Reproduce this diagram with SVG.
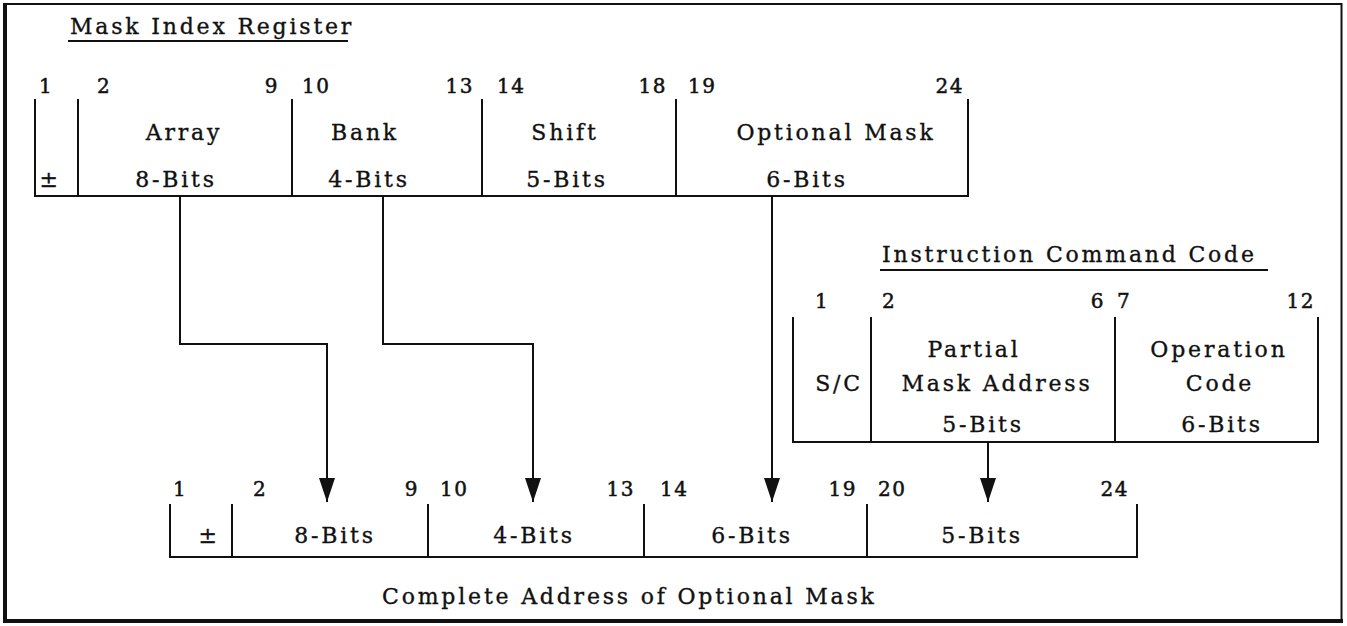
<svg xmlns="http://www.w3.org/2000/svg" width="1347" height="626" viewBox="0 0 1347 626">
<style>
.t{font-family:"DejaVu Serif","Liberation Serif",serif;font-size:22px;letter-spacing:2.8px;fill:#111;stroke:#111;stroke-width:0.35}
.n{font-family:"DejaVu Serif","Liberation Serif",serif;font-size:20px;letter-spacing:1.5px;fill:#111;stroke:#111;stroke-width:0.5}
.m{text-anchor:middle}
.e{text-anchor:end}
.ln{stroke:#111;stroke-width:2;fill:none}
</style>
<defs>
<marker id="arr" markerWidth="24" markerHeight="16" refX="24" refY="8" orient="auto" markerUnits="userSpaceOnUse" viewBox="0 0 24 16">
<path d="M0,0 L24,8 L0,16 Z" fill="#111"/>
</marker>
</defs>
<rect width="1347" height="626" fill="#fff"/>
<g id="frame">
<rect x="4.5" y="4" width="1337" height="616" fill="none" stroke="#111" stroke-width="2"/>
<line x1="5" y1="3" x2="5" y2="622" stroke="#111" stroke-width="4"/>
<line x1="3" y1="621" x2="1343" y2="621" stroke="#111" stroke-width="4"/>
</g>
<g id="mask-index-register">
<text class="t" x="70" y="34">Mask Index Register</text>
<line class="ln" x1="68" y1="41" x2="348" y2="41"/>
<text class="n" x="39" y="93">1</text>
<text class="n" x="97" y="93">2</text>
<text class="n e" x="279" y="93">9</text>
<text class="n" x="302" y="93">10</text>
<text class="n e" x="474" y="93">13</text>
<text class="n" x="497" y="93">14</text>
<text class="n e" x="667" y="93">18</text>
<text class="n" x="688" y="93">19</text>
<text class="n e" x="964" y="93">24</text>
<path class="ln" d="M35,99 V196 H968 V99 M78,99 V196 M292,99 V196 M482,99 V196 M676,99 V196"/>
<text class="t m" x="184" y="140">Array</text>
<text class="t m" x="365" y="140">Bank</text>
<text class="t m" x="565" y="140">Shift</text>
<text class="t m" x="836" y="140">Optional Mask</text>
<text class="t m" x="50" y="187">±</text>
<text class="t m" x="176" y="187">8-Bits</text>
<text class="t m" x="369" y="187">4-Bits</text>
<text class="t m" x="567" y="187">5-Bits</text>
<text class="t m" x="807" y="187">6-Bits</text>
</g>
<g id="instruction-command-code">
<text class="t" x="882" y="262">Instruction Command Code</text>
<line class="ln" x1="880" y1="270" x2="1268" y2="270"/>
<text class="n" x="815" y="308">1</text>
<text class="n" x="882" y="308">2</text>
<text class="n e" x="1105" y="308">6</text>
<text class="n" x="1117" y="308">7</text>
<text class="n e" x="1315" y="308">12</text>
<path class="ln" d="M793,317 V442 H1318 V317 M871,317 V442 M1115,317 V442"/>
<text class="t m" x="839" y="391">S/C</text>
<text class="t m" x="974" y="357">Partial</text>
<text class="t m" x="997" y="391">Mask Address</text>
<text class="t m" x="983" y="432">5-Bits</text>
<text class="t m" x="1219" y="357">Operation</text>
<text class="t m" x="1220" y="391">Code</text>
<text class="t m" x="1222" y="432">6-Bits</text>
</g>
<g id="complete-address">
<text class="n" x="173" y="496">1</text>
<text class="n" x="253" y="496">2</text>
<text class="n e" x="419" y="496">9</text>
<text class="n" x="440" y="496">10</text>
<text class="n e" x="635" y="496">13</text>
<text class="n" x="660" y="496">14</text>
<text class="n e" x="857" y="496">19</text>
<text class="n" x="878" y="496">20</text>
<text class="n e" x="1129" y="496">24</text>
<path class="ln" d="M170,504 V557 H1137 V504 M232,504 V557 M428,504 V557 M644,504 V557 M867,504 V557"/>
<text class="t m" x="209" y="543">±</text>
<text class="t m" x="335" y="543">8-Bits</text>
<text class="t m" x="534" y="543">4-Bits</text>
<text class="t m" x="752" y="543">6-Bits</text>
<text class="t m" x="982" y="543">5-Bits</text>
<text class="t" x="382" y="604">Complete Address of Optional Mask</text>
</g>
<g id="connectors">
<path class="ln" d="M180,196 V344 H327 V502" marker-end="url(#arr)"/>
<path class="ln" d="M383,196 V344 H533 V502" marker-end="url(#arr)"/>
<path class="ln" d="M772,196 V502" marker-end="url(#arr)"/>
<path class="ln" d="M988,442 V502" marker-end="url(#arr)"/>
</g>
</svg>
